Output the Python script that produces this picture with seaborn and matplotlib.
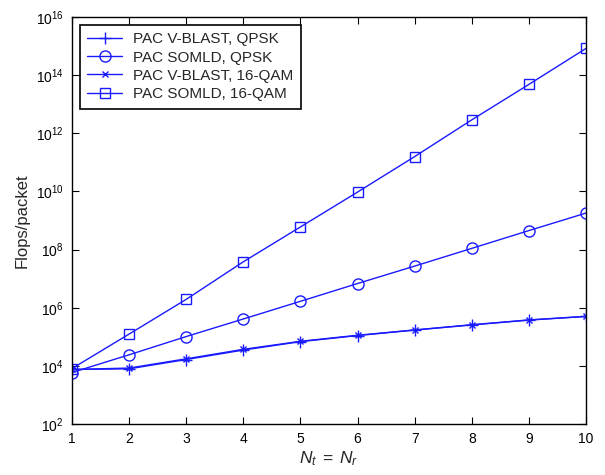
import numpy as np
import pandas as pd
import matplotlib
matplotlib.use("Agg")
import matplotlib.pyplot as plt
import seaborn as sns
from matplotlib.ticker import FixedLocator, LogFormatterSciNotation, NullLocator

# ---- data ----
nt = [1, 2, 3, 4, 5, 6, 7, 8, 9, 10]
vblast_qpsk = [7.5e3, 7.9e3, 1.65e4, 3.5e4, 6.8e4, 1.1e5, 1.7e5, 2.55e5, 3.75e5, 5.0e5]
somld_qpsk = [5.9e3, 2.4e4, 1.02e5, 4.1e5, 1.66e6, 6.8e6, 2.7e7, 1.1e8, 4.5e8, 1.8e9]
vblast_16qam = [7.5e3, 8.4e3, 1.75e4, 3.7e4, 7.0e4, 1.13e5, 1.72e5, 2.6e5, 3.8e5, 5.05e5]
somld_16qam = [8.1e3, 1.24e5, 1.94e6, 3.8e7, 6.0e8, 9.5e9, 1.58e11, 2.9e12, 4.8e13, 8.3e14]
labels = ["PAC V-BLAST, QPSK", "PAC SOMLD, QPSK", "PAC V-BLAST, 16-QAM", "PAC SOMLD, 16-QAM"]
yticks = [1e2, 1e4, 1e6, 1e8, 1e10, 1e12, 1e14, 1e16]

sns.set_style("ticks")
plt.rcParams['font.family'] = ['Liberation Sans', 'DejaVu Sans']
plt.rcParams['mathtext.fontset'] = 'custom'
plt.rcParams['mathtext.rm'] = 'Liberation Sans'
plt.rcParams['mathtext.it'] = 'Liberation Sans:italic'
plt.rcParams['mathtext.bf'] = 'Liberation Sans:bold'

fig = plt.figure(figsize=(6.05, 4.75), dpi=100)
ax = fig.add_axes([72/605, 1-424/475, (586-72)/605, (424-17)/475])

series = [vblast_qpsk, somld_qpsk, vblast_16qam, somld_16qam]
markers = ['+', 'o', 'x', 's']
msizes = [9, 8, 5, 7]
blue = '#1a1aff'
for vals, lab, mk, ms in zip(series, labels, markers, msizes):
    df = pd.DataFrame({"N": nt, "flops": vals})
    sns.lineplot(data=df, x="N", y="flops", ax=ax, label=lab, color=blue,
                 marker=mk, markersize=ms, markerfacecolor='none',
                 markeredgecolor=blue, markeredgewidth=1.0, linewidth=1.0)

ax.set_yscale('log')
ax.set_xlim(1, 10)
ax.set_ylim(1e2, 1e16)
ax.xaxis.set_major_locator(FixedLocator(nt))
ax.yaxis.set_major_locator(FixedLocator(yticks))
ax.yaxis.set_major_formatter(LogFormatterSciNotation())
ax.yaxis.set_minor_locator(NullLocator())
ax.xaxis.set_minor_locator(NullLocator())
ax.tick_params(direction='in', top=True, right=True, length=5, width=0.8,
               labelsize=10, colors='black', pad=6)
for s in ax.spines.values():
    s.set_visible(True)
    s.set_linewidth(1.0)
    s.set_color('black')

ax.set_xlabel(r'$N_t\;=\;N_r$', fontsize=12.5, labelpad=2)
ax.set_ylabel('Flops/packet', fontsize=12, labelpad=4)

leg = ax.legend(loc='upper left', fontsize=11, frameon=True, fancybox=False,
                edgecolor='black', framealpha=1, handlelength=2.3,
                borderaxespad=0.5, labelspacing=0.28, borderpad=0.5,
                handletextpad=0.7)
leg.get_frame().set_linewidth(1.2)

fig.savefig('out.png', dpi=100)
